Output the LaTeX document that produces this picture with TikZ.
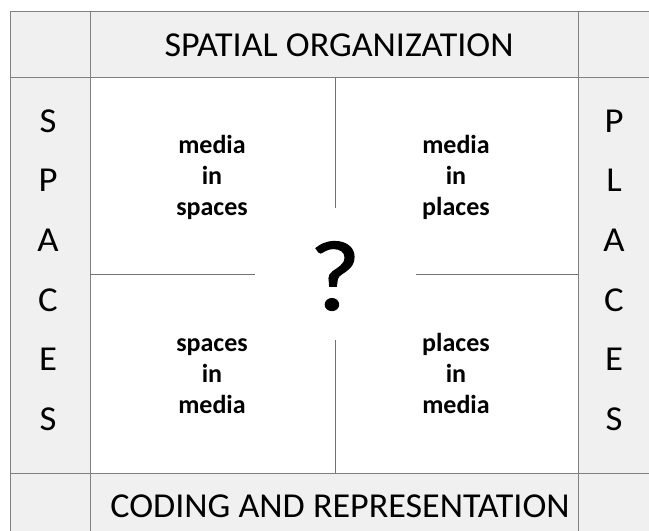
\documentclass[tikz,border=0pt]{standalone}
\usepackage{fontspec}
\setmainfont{Carlito}
\newfontfamily\qmfont[FakeBold=1.2]{Carlito}
\begin{document}
\begin{tikzpicture}[x=1pt,y=-1pt,
  grid/.style={draw=black!50,line width=0.9pt},
  inner/.style={draw=black!55,line width=0.8pt},
  cell/.style={fill=black!6},
  head/.style={font=\fontsize{35}{40}\selectfont,inner sep=0pt,xscale=1.03},
  side/.style={font=\fontsize{35}{40}\selectfont,inner sep=0pt,xscale=1.05},
  quad/.style={font=\bfseries\fontsize{26}{31}\selectfont,align=center,inner sep=0pt},
  qmark/.style={font=\qmfont\fontsize{100}{100}\selectfont,inner sep=0pt,xscale=1.1}]
\useasboundingbox (0,0) rectangle (649,531);
\fill[white] (0,0) rectangle (649,531);
% gray frame cells
\fill[cell] (10,11) rectangle (660,77);
\fill[cell] (10,473) rectangle (660,545);
\fill[cell] (10,77) rectangle (90,473);
\fill[cell] (578,77) rectangle (660,473);
% grid lines
\draw[grid] (10,545) -- (10,11) -- (660,11);
\draw[grid] (10,77) -- (660,77);
\draw[grid] (10,473) -- (660,473);
\draw[grid] (90,11) -- (90,545);
\draw[grid] (578,11) -- (578,545);
% inner cross
\draw[inner] (335,77) -- (335,208);
\draw[inner] (335,340) -- (335,473);
\draw[inner] (90,274) -- (255,274);
\draw[inner] (416,274) -- (578,274);
% headers
\node[head] (top) at (339,45) {SPATIAL ORGANIZATION};
\node[head] (bottom) at (340,506) {CODING AND REPRESENTATION};
% side letters
\foreach \l [count=\i] in {S,P,A,C,E,S}
  \node[side] (l\i) at (48,{121+59.6*(\i-1)}) {\l};
\foreach \l [count=\i] in {P,L,A,C,E,S}
  \node[side] (r\i) at (614,{121+59.6*(\i-1)}) {\l};
% quadrants
\node[quad] (q1) at (212,178) {\strut media\\in\\spaces\strut};
\node[quad] (q2) at (456,178) {\strut media\\in\\places\strut};
\node[quad] (q3) at (212,376) {\strut spaces\\in\\media\strut};
\node[quad] (q4) at (456,376) {\strut places\\in\\media\strut};
\node[qmark] (qm) at (335,276) {?};
\end{tikzpicture}
\end{document}
